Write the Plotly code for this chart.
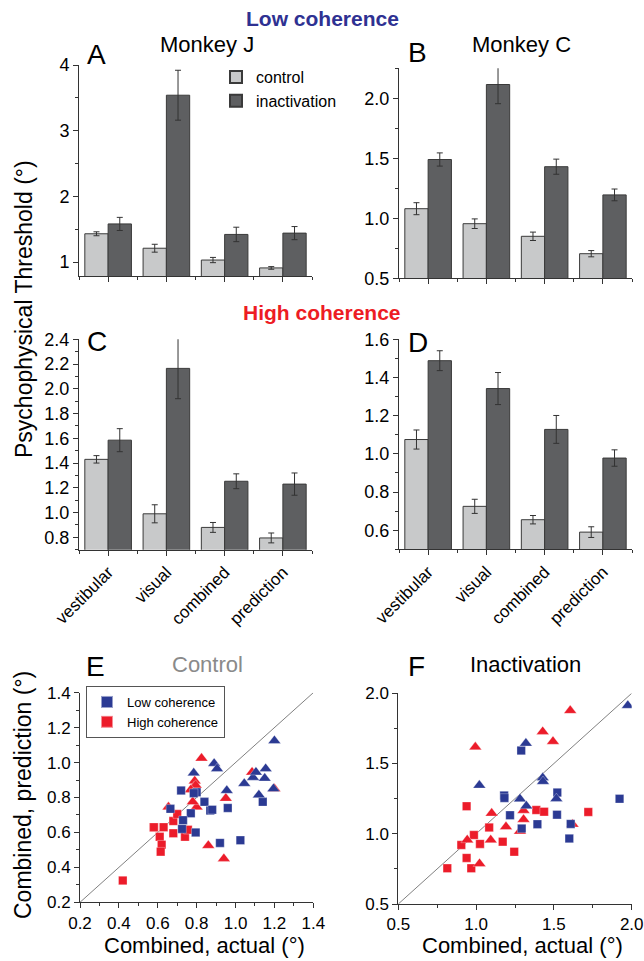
import plotly.graph_objects as go

# ---------------- data ----------------
categories = ["vestibular", "visual", "combined", "prediction"]
cat_pos = [0, 1, 2, 3]
boundaries = [-0.5, 0.5, 1.5, 2.5, 3.5]

A_control = [1.43, 1.21, 1.03, 0.91]
A_control_err = [0.03, 0.06, 0.04, 0.02]
A_inact = [1.58, 3.54, 1.42, 1.44]
A_inact_err = [0.10, 0.38, 0.11, 0.10]

B_control = [1.08, 0.955, 0.85, 0.705]
B_control_err = [0.05, 0.04, 0.035, 0.026]
B_inact = [1.49, 2.115, 1.43, 1.195]
B_inact_err = [0.055, 0.16, 0.063, 0.049]

C_control = [1.43, 0.99, 0.88, 0.795]
C_control_err = [0.03, 0.073, 0.04, 0.04]
C_inact = [1.585, 2.165, 1.253, 1.23]
C_inact_err = [0.093, 0.245, 0.06, 0.09]

D_control = [1.075, 0.725, 0.655, 0.59]
D_control_err = [0.05, 0.037, 0.022, 0.028]
D_inact = [1.488, 1.342, 1.128, 0.978]
D_inact_err = [0.052, 0.084, 0.073, 0.043]

# Panel E (control): combined actual vs prediction
E_low_sq_x = [0.72, 0.665, 0.77, 0.73, 0.725, 0.795, 0.80, 0.785, 0.84, 0.87, 0.88, 0.96, 0.92, 1.025, 1.14]
E_low_sq_y = [0.84, 0.735, 0.71, 0.67, 0.62, 0.60, 0.83, 0.825, 0.775, 0.725, 0.73, 0.74, 0.54, 0.555, 0.775]
E_low_tri_x = [0.785, 0.89, 0.905, 0.955, 1.045, 1.155, 1.15, 1.12, 1.09, 1.105, 1.20, 1.195]
E_low_tri_y = [0.94, 0.995, 0.965, 0.84, 0.88, 0.965, 0.91, 0.815, 0.915, 0.945, 1.125, 0.85]
E_high_sq_x = [0.58, 0.63, 0.61, 0.62, 0.615, 0.68, 0.68, 0.70, 0.74, 0.755, 0.42]
E_high_sq_y = [0.63, 0.63, 0.575, 0.53, 0.49, 0.595, 0.665, 0.705, 0.575, 0.615, 0.325]
E_high_tri_x = [0.825, 0.79, 0.785, 0.795, 0.77, 0.80, 0.78, 0.655, 0.95, 0.86, 0.94, 1.085, 1.20]
E_high_tri_y = [1.025, 0.895, 0.86, 0.87, 0.845, 0.745, 0.775, 0.745, 0.795, 0.525, 0.45, 0.945, 0.85]

# Panel F (inactivation)
F_low_sq_x = [1.29, 1.18, 1.182, 1.218, 1.293, 1.394, 1.522, 1.52, 1.599, 1.608, 1.922]
F_low_sq_y = [1.592, 1.272, 1.255, 1.132, 1.037, 1.068, 1.293, 1.136, 0.966, 1.07, 1.249]
F_low_tri_x = [1.32, 1.021, 1.428, 1.43, 1.282, 1.323, 1.516, 1.975]
F_low_tri_y = [1.644, 1.345, 1.398, 1.372, 1.248, 1.198, 1.25, 1.913]
F_high_sq_x = [0.939, 0.905, 0.939, 0.969, 0.815, 0.986, 1.025, 1.084, 1.171, 1.245, 1.387, 1.437, 1.721]
F_high_sq_y = [1.196, 0.92, 0.828, 0.754, 0.754, 0.991, 0.928, 1.045, 0.944, 0.872, 1.169, 1.157, 1.155]
F_high_tri_x = [0.995, 1.605, 1.428, 1.494, 1.10, 1.094, 1.192, 0.943, 1.022, 1.282, 1.305, 1.305, 1.62]
F_high_tri_y = [1.617, 1.877, 1.727, 1.657, 1.146, 0.956, 1.05, 0.956, 0.787, 1.018, 1.102, 1.166, 1.068]

E_diag = [0.2, 1.4]
F_diag = [0.5, 2.0]

# ---------------- style ----------------
W, H = 644, 961
FONT = "Liberation Sans, Arial, sans-serif"
CTRL = "#c8c9ca"
INACT = "#5e5f61"
OUTLINE = "#3a3a3a"
BLUE = "#2b3a93"
RED = "#ec1c2a"
AXC = "#333333"


def px(x):
    return x / W


def py(y):
    return 1 - y / H


fig = go.Figure()

bar_panels = [
    ("x", "y", A_control, A_control_err, A_inact, A_inact_err, True),
    ("x2", "y2", B_control, B_control_err, B_inact, B_inact_err, False),
    ("x3", "y3", C_control, C_control_err, C_inact, C_inact_err, False),
    ("x4", "y4", D_control, D_control_err, D_inact, D_inact_err, False),
]
for xa, ya, c, ce, iv, ie, show in bar_panels:
    fig.add_trace(go.Bar(
        x=cat_pos, y=c, name="control", xaxis=xa, yaxis=ya,
        offsetgroup="c", showlegend=show, legend="legend",
        marker=dict(color=CTRL, line=dict(color=OUTLINE, width=1)),
        error_y=dict(type="data", array=ce, color=AXC, thickness=1, width=3),
    ))
    fig.add_trace(go.Bar(
        x=cat_pos, y=iv, name="inactivation", xaxis=xa, yaxis=ya,
        offsetgroup="i", showlegend=show, legend="legend",
        marker=dict(color=INACT, line=dict(color=OUTLINE, width=1)),
        error_y=dict(type="data", array=ie, color=AXC, thickness=1, width=3),
    ))

# diagonal lines
fig.add_trace(go.Scatter(x=E_diag, y=E_diag, mode="lines", xaxis="x5", yaxis="y5",
                         line=dict(color="#808080", width=1), showlegend=False, hoverinfo="skip"))
fig.add_trace(go.Scatter(x=F_diag, y=F_diag, mode="lines", xaxis="x6", yaxis="y6",
                         line=dict(color="#808080", width=1), showlegend=False, hoverinfo="skip"))

SQ = 8.5
TR = 11


def pts(x, y, color, symbol, size, xa, ya, name=None, show=False):
    fig.add_trace(go.Scatter(
        x=x, y=y, mode="markers", xaxis=xa, yaxis=ya, name=name,
        showlegend=show, legend="legend2",
        marker=dict(color=color, symbol=symbol, size=size,
                    line=dict(color="rgba(255,255,255,0.5)", width=0.6)),
    ))


# red first, blue on top
pts(E_high_sq_x, E_high_sq_y, RED, "square", SQ, "x5", "y5")
pts(E_high_tri_x, E_high_tri_y, RED, "triangle-up", TR, "x5", "y5")
pts(E_low_sq_x, E_low_sq_y, BLUE, "square", SQ, "x5", "y5", "Low coherence", True)
pts(E_low_tri_x, E_low_tri_y, BLUE, "triangle-up", TR, "x5", "y5")
# legend entry for high coherence (uses red squares)
fig.add_trace(go.Scatter(x=E_high_sq_x[:1], y=E_high_sq_y[:1], mode="markers", xaxis="x5", yaxis="y5",
                         name="High coherence", showlegend=True, legend="legend2",
                         marker=dict(color=RED, symbol="square", size=SQ,
                                     line=dict(color="rgba(255,255,255,0.5)", width=0.6))))

pts(F_high_sq_x, F_high_sq_y, RED, "square", SQ, "x6", "y6")
pts(F_high_tri_x, F_high_tri_y, RED, "triangle-up", TR, "x6", "y6")
pts(F_low_sq_x, F_low_sq_y, BLUE, "square", SQ, "x6", "y6")
pts(F_low_tri_x, F_low_tri_y, BLUE, "triangle-up", TR, "x6", "y6")

# ---------------- axes ----------------
def tickfont(size=17):
    return dict(family=FONT, size=size, color="black")


def yax(domain, rng, dtick, minor_dtick, fmt, anchor, fs=18):
    return dict(domain=domain, range=rng, dtick=dtick, tick0=0, tickformat=fmt,
                showline=True, linecolor=AXC, linewidth=1, ticks="outside", ticklen=5,
                tickcolor=AXC, tickwidth=1, showgrid=False, zeroline=False,
                tickfont=tickfont(fs), anchor=anchor, fixedrange=True,
                minor=dict(dtick=minor_dtick, tick0=0, ticks="outside", ticklen=3,
                           tickcolor=AXC, showgrid=False))


def xbar(domain, anchor, labels):
    d = dict(domain=domain, range=[-0.5, 3.5], tickmode="array", tickvals=cat_pos,
             ticktext=categories if labels else ["", "", "", ""],
             showline=True, linecolor=AXC, linewidth=1, ticks="outside", ticklen=5,
             tickcolor=AXC, tickwidth=1, showgrid=False, zeroline=False,
             tickfont=tickfont(17), tickangle=-45 if labels else 0, anchor=anchor, fixedrange=True,
             minor=dict(tickmode="array", tickvals=boundaries, ticks="outside", ticklen=3,
                        tickcolor=AXC, showgrid=False))
    return d


xl = [px(79), px(312)]
xr = [px(399), px(632)]

layout = dict(
    width=W, height=H, margin=dict(l=0, r=0, t=0, b=0, autoexpand=False),
    paper_bgcolor="white", plot_bgcolor="white",
    barmode="group", bargap=0.2, bargroupgap=0,
    font=dict(family=FONT, color="black"),
    xaxis=xbar(xl, "y", False),
    yaxis=yax([py(276), py(65)], [0.787, 4.0], 1, 0.5, "d", "x"),
    xaxis2=xbar(xr, "y2", False),
    yaxis2=yax([py(278.3), py(68.3)], [0.5, 2.25], 0.5, 0.25, ".1f", "x2"),
    xaxis3=xbar(xl, "y3", True),
    yaxis3=yax([py(549.7), py(339.3)], [0.7, 2.4], 0.2, 0.1, ".1f", "x3"),
    xaxis4=xbar(xr, "y4", True),
    yaxis4=yax([py(549.3), py(339.3)], [0.5, 1.6], 0.2, 0.1, ".1f", "x4"),
    xaxis5=yax([px(80), px(313.3)], [0.2, 1.4], 0.2, 0.1, ".1f", "y5", 17),
    yaxis5=yax([py(902.3), py(692.7)], [0.2, 1.4], 0.2, 0.1, ".1f", "x5", 17),
    xaxis6=yax([px(398.3), px(631.7)], [0.5, 2.0], 0.5, 0.25, ".1f", "y6", 17),
    yaxis6=yax([py(904), py(693.3)], [0.5, 2.0], 0.5, 0.25, ".1f", "x6", 17),
    legend=dict(x=px(216), y=py(60), xanchor="left", yanchor="top",
                bgcolor="rgba(0,0,0,0)", font=dict(family=FONT, size=16, color="black"),
                tracegroupgap=0, itemsizing="constant"),
    legend2=dict(x=px(86), y=py(686), xanchor="left", yanchor="top",
                 bgcolor="white", bordercolor="#555555", borderwidth=1,
                 font=dict(family=FONT, size=13, color="black"),
                 tracegroupgap=0, itemsizing="constant"),
    showlegend=True,
)
fig.update_layout(**layout)


def ann(text, x, y, size, color="black", bold=False, angle=0):
    t = f"<b>{text}</b>" if bold else text
    fig.add_annotation(text=t, x=px(x), y=py(y), xref="paper", yref="paper",
                       xanchor="center", yanchor="middle", showarrow=False, textangle=angle,
                       font=dict(family=FONT, size=size, color=color))


ann("Low coherence", 322, 19, 21, "#2e3192", True)
ann("High coherence", 322, 312, 21, "#ed1c24", True)
ann("Monkey J", 207, 45, 22)
ann("Monkey C", 521, 45, 22)
ann("A", 96, 55, 28)
ann("B", 418, 53, 28)
ann("C", 97, 341, 28)
ann("D", 418, 342, 28)
ann("E", 95, 666, 28)
ann("F", 416, 666, 28)
ann("Control", 207, 664, 22, "#8a8a8a")
ann("Inactivation", 525, 664, 22)
ann("Psychophysical Threshold (°)", 24, 309, 23, angle=-90)
ann("Combined, prediction (°)", 23, 795, 23, angle=-90)
ann("Combined, actual (°)", 204, 945, 22)
ann("Combined, actual (°)", 522, 945, 22)

fig.write_html("out.html", config={"displayModeBar": False},
               post_script="document.body.style.margin='0px';document.body.style.overflow='hidden';")
